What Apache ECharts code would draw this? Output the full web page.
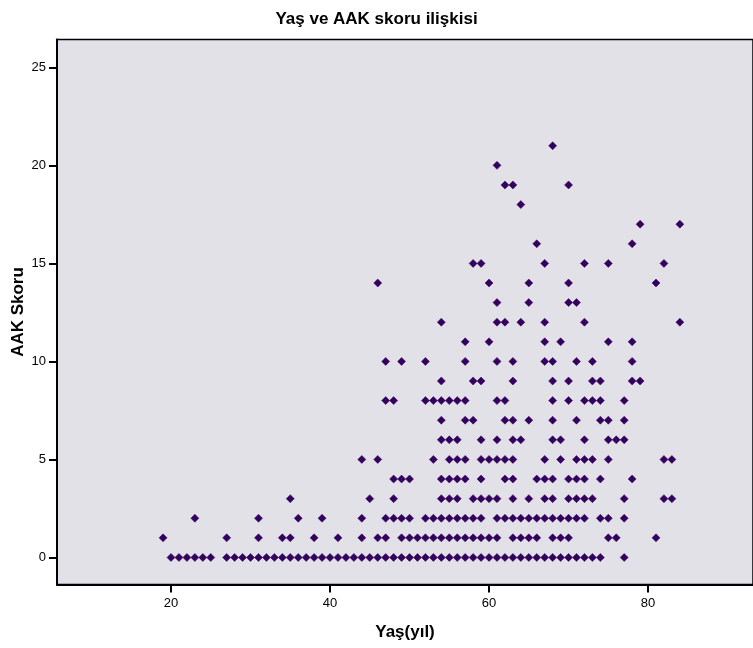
<!DOCTYPE html>
<html>
<head>
<meta charset="utf-8">
<script src="https://cdn.jsdelivr.net/npm/echarts@6/dist/echarts.min.js"></script>
<style>
html,body{margin:0;padding:0;background:#fff;}
#chart{width:753px;height:648px;}
</style>
</head>
<body>
<div id="chart"></div>
<script>
// Ages (years) observed at each AAK score level
const ages0 = [20,21,22,23,24,25,27,28,29,30,31,32,33,34,35,36,37,38,39,40,41,42,43,44,45,46,47,48,49,50,51,52,53,54,55,56,57,58,59,60,61,62,63,64,65,66,67,68,69,70,71,72,73,74,77];
const ages1 = [19,27,31,34,35,38,41,44,46,47,49,50,51,52,53,54,55,56,57,58,59,60,61,63,64,65,66,68,69,70,75,76,81];
const ages2 = [23,31,36,39,44,47,48,49,50,52,53,54,55,56,57,58,59,61,62,63,64,65,66,67,68,69,70,71,72,74,75,77];
const ages3 = [35,45,48,54,55,56,58,59,60,61,63,65,67,68,70,71,72,73,77,82,83];
const ages4 = [48,49,50,54,55,56,57,59,62,63,66,67,68,70,71,72,74,78];
const ages5 = [44,46,53,55,56,57,59,60,61,62,63,67,69,71,72,73,75,82,83];
const ages6 = [54,55,56,59,61,63,64,68,69,72,75,76,77];
const ages7 = [54,57,58,62,63,65,68,71,74,75,77];
const ages8 = [47,48,52,53,54,55,56,57,61,62,68,70,72,73,74,77];
const ages9 = [54,58,59,63,68,70,73,74,78,79];
const ages10 = [47,49,52,57,61,63,67,68,71,73,78];
const ages11 = [57,60,67,69,75,78];
const ages12 = [54,61,62,64,67,72,84];
const ages13 = [61,65,70,71];
const ages14 = [46,60,65,70,81];
const ages15 = [58,59,67,72,75,82];
const ages16 = [66,78];
const ages17 = [79,84];
const ages18 = [64];
const ages19 = [62,63,70];
const ages20 = [61];
const ages21 = [68];
const scoreLevels = [0,1,2,3,4,5,6,7,8,9,10,11,12,13,14,15,16,17,18,19,20,21];
const agesByScore = [ages0,ages1,ages2,ages3,ages4,ages5,ages6,ages7,ages8,ages9,ages10,ages11,ages12,ages13,ages14,ages15,ages16,ages17,ages18,ages19,ages20,ages21];
const xTicks = [20,40,60,80];
const yTicks = [0,5,10,15,20,25];

const points = [];
scoreLevels.forEach((s, i) => agesByScore[i].forEach(a => points.push([a, s])));

const chart = echarts.init(document.getElementById('chart'), null, {renderer: 'canvas'});
const fam = '"Liberation Sans", Arial, sans-serif';
chart.setOption({
  animation: false,
  backgroundColor: '#ffffff',
  title: {
    text: 'Yaş ve AAK skoru ilişkisi',
    left: 'center',
    top: 6,
    textStyle: {fontFamily: fam, fontSize: 17, fontWeight: 'bold', color: '#000'}
  },
  grid: {
    left: 57, top: 39.5, right: 0, bottom: 63.5,
    outerBoundsMode: 'none', containLabel: false,
    show: true, backgroundColor: '#e2e1e8', borderColor: '#000', borderWidth: 1.5
  },
  xAxis: {
    type: 'value', min: 5.66, max: 93.2,
    name: 'Yaş(yıl)', nameLocation: 'middle', nameGap: 39, nameMoveOverlap: false,
    nameTextStyle: {fontFamily: fam, fontSize: 17, fontWeight: 'bold', color: '#000'},
    axisLine: {show: true, onZero: false, lineStyle: {color: '#000', width: 2}},
    axisTick: {show: true, length: 8, lineStyle: {color: '#000', width: 2}, customValues: xTicks},
    axisLabel: {customValues: xTicks, margin: 12, fontFamily: fam, fontSize: 13, color: '#000'},
    splitLine: {show: false}
  },
  yAxis: {
    type: 'value', min: -1.38, max: 26.42,
    name: 'AAK Skoru', nameLocation: 'middle', nameGap: 30, nameRotate: 90, nameMoveOverlap: false,
    nameTextStyle: {fontFamily: fam, fontSize: 17, fontWeight: 'bold', color: '#000'},
    axisLine: {show: true, onZero: false, lineStyle: {color: '#000', width: 2}},
    axisTick: {show: true, length: 8, lineStyle: {color: '#000', width: 2}, customValues: yTicks},
    axisLabel: {customValues: yTicks, margin: 11, fontFamily: fam, fontSize: 13, color: '#000'},
    splitLine: {show: false}
  },
  series: [{
    type: 'scatter',
    data: points,
    symbol: 'diamond',
    symbolSize: [8, 8],
    itemStyle: {color: '#33005e', borderColor: '#33005e', borderWidth: 0.5, opacity: 1}
  }]
});
</script>
</body>
</html>
